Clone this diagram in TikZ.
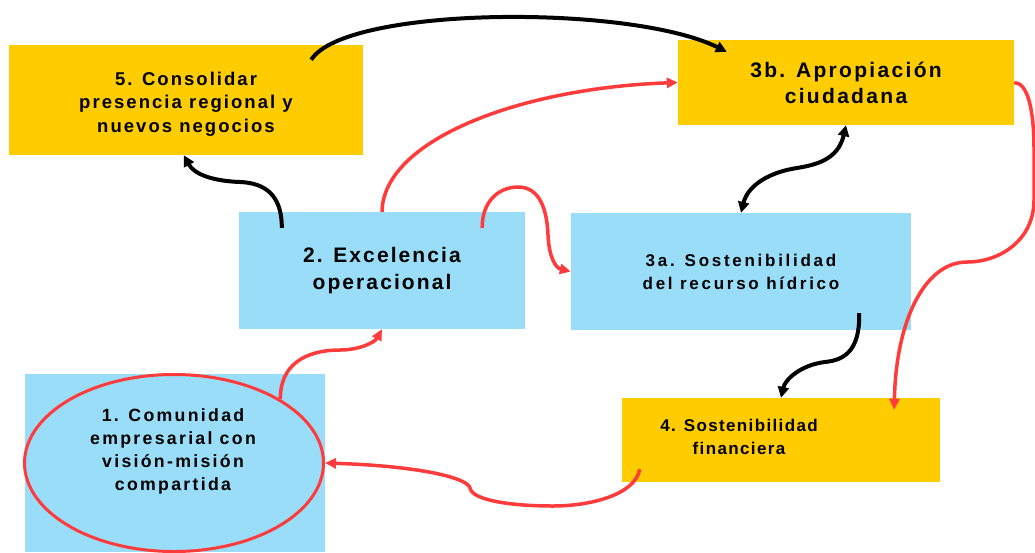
\documentclass[tikz,border=0pt]{standalone}
\usepackage{fontspec}
\setmainfont{Liberation Sans}
\usetikzlibrary{arrows.meta,shapes.geometric,positioning}
\definecolor{boxyellow}{RGB}{255,204,0}
\definecolor{boxblue}{RGB}{153,221,248}
\definecolor{linkred}{RGB}{255,59,59}
\newcommand{\lbl}[3]{\fontsize{#1}{#2}\selectfont\bfseries\addfontfeature{LetterSpace=#3}}
\tikzstyle{ybox} = [rectangle,fill=boxyellow,align=center,inner sep=0pt]
\tikzstyle{bbox} = [rectangle,fill=boxblue,align=center,inner sep=0pt]
\tikzstyle{blk} = [line width=4pt,-{Triangle[length=11pt,width=11pt]}]
\tikzstyle{rd} = [line width=3.5pt,draw=linkred,-{Triangle[length=11pt,width=10pt]}]

\begin{document}
\begin{tikzpicture}[x=1pt,y=-1pt]
 \useasboundingbox (0,0) rectangle (1035,552);
 % boxes
 \node (C5) [ybox,minimum width=354pt,minimum height=110pt,font=\lbl{18.5}{23.5}{11}] at (186,100)
            {\\[-2pt]5. Consolidar\\presencia regional y\\nuevos negocios};
 \node (A3b) [ybox,minimum width=336pt,minimum height=85pt,font=\lbl{21}{26}{11}] at (846,82.5)
            {3b. Apropiación\\ciudadana};
 \node (E2) [bbox,minimum width=286pt,minimum height=117pt,font=\lbl{21}{27}{10}] at (382,270.5)
            {2. Excelencia\\operacional};
 \node (S3a) [bbox,minimum width=340pt,minimum height=117pt,font=\lbl{17}{23}{16}] at (741,271.5)
            {3a. Sostenibilidad\\del recurso hídrico};
 \node (F4) [ybox,minimum width=318pt,minimum height=84pt] at (781,440) {};
 \node (F4t) [align=center,font=\lbl{17}{23.5}{8}] at (739,437) {4. Sostenibilidad\\financiera};
 \node (B1) [bbox,minimum width=300pt,minimum height=178pt] at (175,463) {};
 \node (C1) [ellipse,draw=linkred,line width=3pt,minimum width=299pt,minimum height=177pt] at (174,463) {};
 \node (C1t) [align=center,font=\lbl{17.7}{23}{13}] at (173,451)
            {1. Comunidad\\empresarial con\\visión-misión\\compartida};
 % connector ends
 \coordinate (p5) at ([shift={(-52,15)}]C5.north east);
 \coordinate (q3b) at ([shift={(49,12)}]A3b.north west);
 \coordinate (p2a) at ([shift={(43,16)}]E2.north west);
 \coordinate (q5) at ([shift={(175,0)}]C5.south west);
 \coordinate (p2b) at ([shift={(-43,16)}]E2.north east);
 \coordinate (p3a) at ([shift={(-52,-17)}]S3a.south east);
 \coordinate (q4) at ([shift={(-46,12)}]F4.north east);
 \coordinate (p4) at ([shift={(18,-13)}]F4.south west);
 % connectors
 \draw [blk] (p5) .. controls (345,6) and (630,4) .. (q3b);
 \draw [blk] (p2a) .. controls (282,195) and (265,183) .. (240,182)
             .. controls (212,181) and (194,174) .. (q5);
 \draw [rd] (E2.north) .. controls (383,140) and (520,88) .. (A3b.west);
 \draw [rd] (p2b) .. controls (482,200) and (500,187) .. (518,187)
            .. controls (540,187) and (547,210) .. (548,235)
            .. controls (549,258) and (556,268) .. (S3a.west);
 \draw [blk,{Triangle[length=11pt,width=11pt]}-{Triangle[length=11pt,width=11pt]}]
       (A3b.south) .. controls (838,160) and (815,165) .. (797,168)
       .. controls (770,172) and (748,185) .. (S3a.north);
 \draw [blk] (p3a) .. controls (860,350) and (845,360) .. (825,362)
             .. controls (800,365) and (785,380) .. (F4.north);
 \draw [rd] (A3b.east) .. controls (1028,83) and (1034,110) .. (1034,150) -- (1034,200)
            .. controls (1034,240) and (1000,262) .. (967,262)
            .. controls (925,262) and (896,320) .. (q4);
 \draw [rd] (p4) .. controls (635,495) and (590,506) .. (553,506)
            .. controls (510,506) and (472,500) .. (470,488)
            .. controls (468,478) and (420,466) .. (C1.east);
 \draw [rd] (C1.31) .. controls (280,365) and (305,350) .. (340,350)
            .. controls (360,350) and (375,342) .. (E2.south);
\end{tikzpicture}
\end{document}
